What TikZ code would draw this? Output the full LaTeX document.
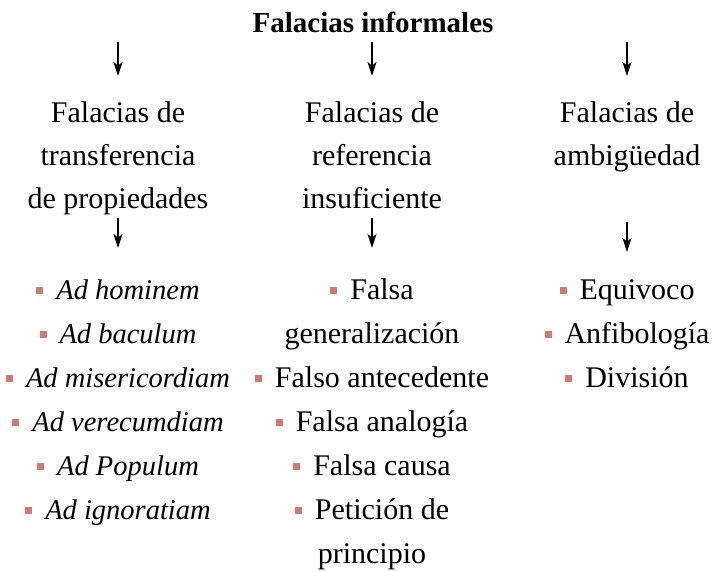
\documentclass[tikz,border=0pt]{standalone}
\usepackage{fontspec}
\setmainfont{Liberation Serif}
\usetikzlibrary{arrows.meta}
\definecolor{bulc}{RGB}{208,120,116}
\newcommand{\bulmark}{\textcolor{bulc}{\rule[5.5pt]{7pt}{7pt}}\hspace{13pt}}
\newcommand{\itx}[1]{{\fontsize{28.5}{34}\selectfont\itshape #1}}
\begin{document}
\begin{tikzpicture}[x=1pt,y=-1pt,
  txt/.style={anchor=base,inner sep=0pt,font=\fontsize{30}{36}\selectfont},
  ttl/.style={anchor=base,inner sep=0pt,font=\fontsize{29}{34}\selectfont\bfseries},
  arr/.style={-{Stealth[length=14pt,width=9pt,inset=3.5pt]},line width=1.2pt}]
\useasboundingbox (0,0) rectangle (714,571);
% title
\node[ttl] (title) at (373,32) {Falacias informales};
% first arrows
\coordinate (a1s) at (118,42); \coordinate (a1e) at (118,76);
\coordinate (a2s) at (372,42); \coordinate (a2e) at (372,76);
\coordinate (a3s) at (627,42); \coordinate (a3e) at (627,76);
\draw[arr] (a1s) -- (a1e);
\draw[arr] (a2s) -- (a2e);
\draw[arr] (a3s) -- (a3e);
% column heads
\node[txt] (h1a) at (118,122) {Falacias de};
\node[txt] (h1b) at (118,165) {transferencia};
\node[txt] (h1c) at (118,208) {de propiedades};
\node[txt] (h2a) at (372,122) {Falacias de};
\node[txt] (h2b) at (372,165) {referencia};
\node[txt] (h2c) at (372,208) {insuficiente};
\node[txt] (h3a) at (627,122) {Falacias de};
\node[txt] (h3b) at (627,165) {ambigüedad};
% second arrows
\coordinate (b1s) at (118,218); \coordinate (b1e) at (118,248);
\coordinate (b2s) at (372,218); \coordinate (b2e) at (372,248);
\coordinate (b3s) at (627,222); \coordinate (b3e) at (627,252);
\draw[arr] (b1s) -- (b1e);
\draw[arr] (b2s) -- (b2e);
\draw[arr] (b3s) -- (b3e);
% column 1 items
\node[txt] (c1i1) at (118,299) {\bulmark\itx{Ad hominem}};
\node[txt] (c1i2) at (118,343) {\bulmark\itx{Ad baculum}};
\node[txt] (c1i3) at (118,387) {\bulmark\itx{Ad misericordiam}};
\node[txt] (c1i4) at (118,431) {\bulmark\itx{Ad verecumdiam}};
\node[txt] (c1i5) at (118,475) {\bulmark\itx{Ad Populum}};
\node[txt] (c1i6) at (118,519) {\bulmark\itx{Ad ignoratiam}};
% column 2 items
\node[txt] (c2i1) at (372,299) {\bulmark Falsa};
\node[txt] (c2i1b) at (372,343) {generalización};
\node[txt] (c2i2) at (372,387) {\bulmark Falso antecedente};
\node[txt] (c2i3) at (372,431) {\bulmark Falsa analogía};
\node[txt] (c2i4) at (372,475) {\bulmark Falsa causa};
\node[txt] (c2i5) at (372,519) {\bulmark Petición de};
\node[txt] (c2i5b) at (372,563) {principio};
% column 3 items
\node[txt] (c3i1) at (627,299) {\bulmark Equivoco};
\node[txt] (c3i2) at (627,343) {\bulmark Anfibología};
\node[txt] (c3i3) at (627,387) {\bulmark División};
\end{tikzpicture}
\end{document}
